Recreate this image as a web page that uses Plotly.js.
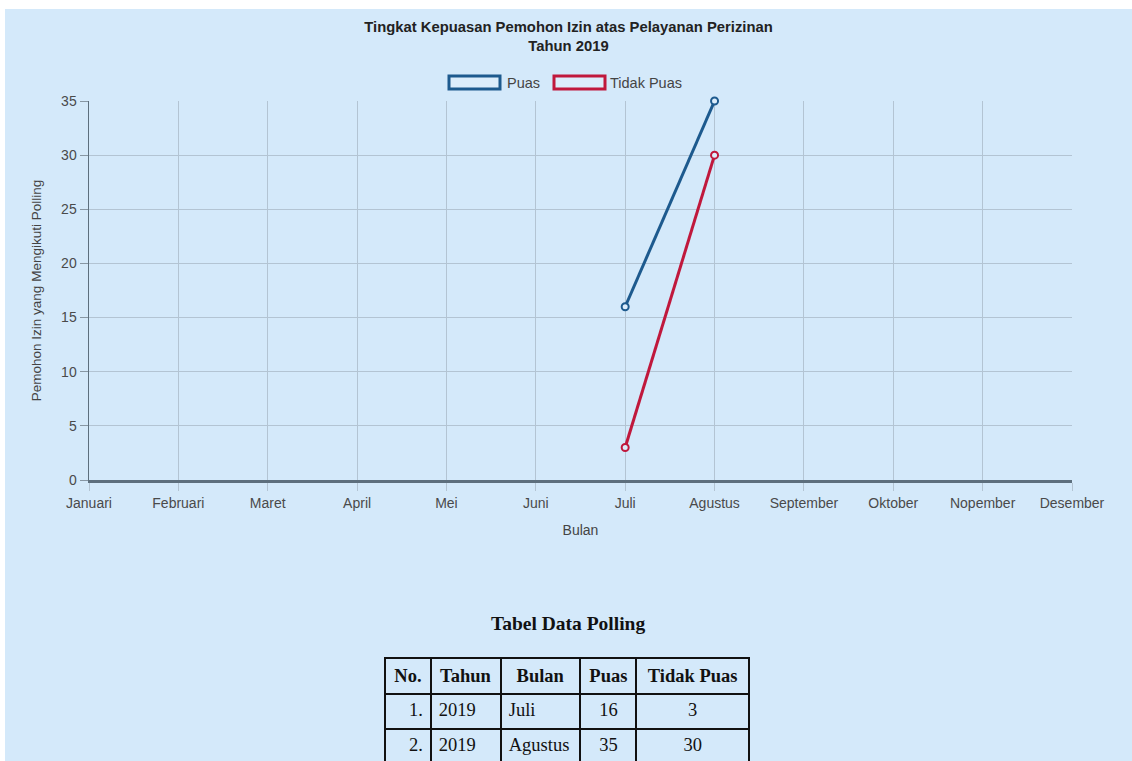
<!DOCTYPE html>
<html>
<head>
<meta charset="utf-8">
<script src="https://cdn.plot.ly/plotly-3.0.1.min.js"></script>
<style>
  html, body { margin: 0; padding: 0; background: #ffffff; overflow: hidden; width: 1132px; height: 761px; }
  #chart { position: absolute; left: 5px; top: 9px; width: 1127px; height: 800px; }
</style>
</head>
<body>
<div id="chart"></div>
<script>
// ---- data ----
const months = ['Januari','Februari','Maret','April','Mei','Juni','Juli','Agustus','September','Oktober','Nopember','Desember'];
const pollMonths = ['Juli','Agustus'];
const pollYears = ['2019','2019'];
const puas = [16, 35];
const tidakPuas = [3, 30];
const tableHeaders = ['No.','Tahun','Bulan','Puas','Tidak Puas'];
const seriesNames = ['Puas','Tidak Puas'];

// ---- styles ----
const BG = '#d4e9fa';
const BLUE = '#1d5a8e';
const RED = '#c0183c';
const GRID = '#b3c4d3';
const AXIS = '#5d6f7d';
const SANS = 'Liberation Sans, Arial, sans-serif';
const SERIF = 'Liberation Serif, Times New Roman, serif';

// pixel helpers (div coords -> paper fraction)
const W = 1127, H = 800, ML = 84, MR = 60, MT = 92, MB = 0;
const PW = W - ML - MR, PH = H - MT - MB;
const px = x => (x - ML) / PW;
const py = y => (H - MB - y) / PH;

const noCol = pollMonths.map((_, i) => (i + 1) + '.');

const traces = [
  { x: months, y: months.map(() => null), type: 'scatter', mode: 'lines',
    showlegend: false, hoverinfo: 'skip' },
  { x: pollMonths, y: puas, name: seriesNames[0], type: 'scatter', mode: 'lines+markers',
    cliponaxis: false,
    line: { color: BLUE, width: 3 },
    marker: { symbol: 'circle', size: 7, color: '#dcedfb', line: { color: BLUE, width: 2 } } },
  { x: pollMonths, y: tidakPuas, name: seriesNames[1], type: 'scatter', mode: 'lines+markers',
    cliponaxis: false,
    line: { color: RED, width: 3 },
    marker: { symbol: 'circle', size: 7, color: '#dcedfb', line: { color: RED, width: 2 } } },
  { type: 'table',
    domain: { x: [px(380), px(745)], y: [0, py(649)] },
    columnwidth: [46, 70, 80, 56, 113],
    header: {
      values: tableHeaders.map(h => '<b>' + h + '</b>'),
      align: 'center', height: 35,
      fill: { color: BG },
      line: { color: '#111111', width: 2 },
      font: { family: SERIF, size: 18.5, color: '#111111' }
    },
    cells: {
      values: [noCol, pollYears, pollMonths, puas, tidakPuas],
      align: ['right','left','left','center','center'], height: 35,
      fill: { color: BG },
      line: { color: '#111111', width: 2 },
      font: { family: SERIF, size: 18.5, color: '#111111' }
    }
  }
];

const layout = {
  width: W, height: H,
  margin: { l: ML, r: MR, t: MT, b: MB, pad: 0 },
  paper_bgcolor: BG, plot_bgcolor: BG,
  showlegend: false,
  font: { family: SANS, size: 14, color: '#555555' },
  title: {
    text: 'Tingkat Kepuasan Pemohon Izin atas Pelayanan Perizinan<br>Tahun 2019',
    font: { family: SANS, size: 14.8, color: '#222222', weight: 'bold' },
    x: 0.5, xref: 'container', xanchor: 'center',
    y: 1 - 22.5 / H, yref: 'container', yanchor: 'middle'
  },
  xaxis: {
    type: 'category',
    categoryorder: 'array', categoryarray: months,
    range: [0, months.length - 1],
    showgrid: true, gridcolor: GRID, gridwidth: 1,
    showline: true, linecolor: AXIS, linewidth: 3,
    ticks: 'outside', ticklen: 8, tickcolor: GRID, tickwidth: 1,
    tickfont: { family: SANS, size: 14, color: '#4a4a4a' },
    title: { text: 'Bulan', font: { family: SANS, size: 14, color: '#444444' }, standoff: 16 },
    zeroline: false, fixedrange: true
  },
  yaxis: {
    domain: [py(471), 1],
    range: [0, 35], dtick: 5, tick0: 0,
    showgrid: true, gridcolor: GRID, gridwidth: 1,
    showline: true, linecolor: AXIS, linewidth: 1.5,
    ticks: 'outside', ticklen: 8, tickcolor: '#8796a3', tickwidth: 1,
    tickfont: { family: SANS, size: 14, color: '#4a4a4a' },
    title: { text: 'Pemohon Izin yang Mengikuti Polling', font: { family: SANS, size: 13.5, color: '#444444' }, standoff: 16 },
    zeroline: false, fixedrange: true
  },
  shapes: [
    { type: 'rect', xref: 'paper', yref: 'paper', x0: px(444), x1: px(495), y0: py(80), y1: py(67),
      line: { color: BLUE, width: 3 }, fillcolor: '#dcedfb' },
    { type: 'rect', xref: 'paper', yref: 'paper', x0: px(549), x1: px(600), y0: py(80), y1: py(67),
      line: { color: RED, width: 3 }, fillcolor: '#dcedfb' }
  ],
  annotations: [
    { xref: 'paper', yref: 'paper', x: px(500), y: py(73.5), xanchor: 'left', yanchor: 'middle',
      text: seriesNames[0], showarrow: false, font: { family: SANS, size: 14.5, color: '#444444' } },
    { xref: 'paper', yref: 'paper', x: px(603), y: py(73.5), xanchor: 'left', yanchor: 'middle',
      text: seriesNames[1], showarrow: false, font: { family: SANS, size: 14.5, color: '#444444' } },
    { xref: 'paper', yref: 'paper', x: 0.5 * (px(380) + px(745)), y: py(614), xanchor: 'center', yanchor: 'middle',
      text: '<b>Tabel Data Polling</b>', showarrow: false, font: { family: SERIF, size: 19.5, color: '#111111' } }
  ]
};

Plotly.newPlot('chart', traces, layout, { displayModeBar: false, staticPlot: true });
</script>
</body>
</html>
